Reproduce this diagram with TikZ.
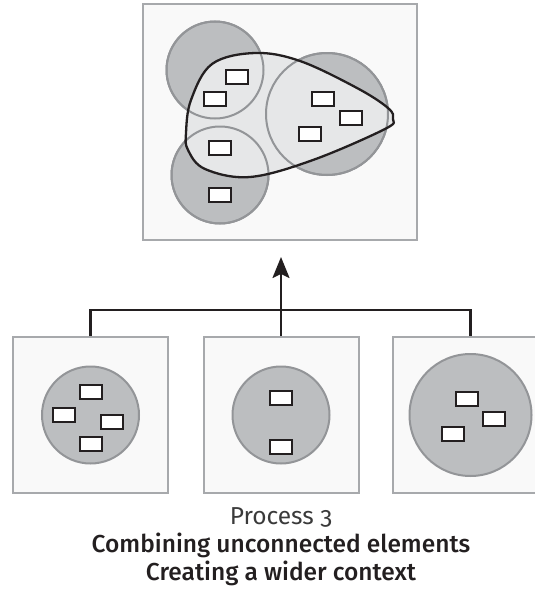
\documentclass[tikz,border=0pt]{standalone}
\usepackage{fontspec}
\setmainfont{Fira Sans}[Numbers=OldStyle, BoldFont={Fira Sans Medium}]
\usetikzlibrary{arrows.meta, positioning}
\definecolor{boxfill}{HTML}{F9F9F9}
\definecolor{boxline}{HTML}{A7A9AC}
\definecolor{circfill}{HTML}{BCBEC0}
\definecolor{circline}{HTML}{939598}
\definecolor{blobfill}{HTML}{E6E7E8}
\definecolor{ink}{HTML}{231F20}
\definecolor{proctext}{HTML}{3A3A3A}

\begin{document}
\begin{tikzpicture}[x=1pt, y=-1pt,
		% cadres, groupes et elements
		panel/.style={draw=boxline, fill=boxfill, line width=2pt, inner sep=0pt},
		cluster/.style={circle, draw=circline, fill=circfill, line width=2pt, minimum size=97pt, inner sep=0pt},
		bigcluster/.style={cluster, minimum size=122pt},
		ring/.style={draw=circline, line width=2pt},
		elem/.style={draw=ink, fill=white, line width=2pt, minimum width=22pt, minimum height=14pt, inner sep=0pt},
		link/.style={draw=ink, line width=2.2pt},
		caption/.style={anchor=base, text=ink, font=\fontsize{24.5}{29}\selectfont\bfseries},
		]
		
		\useasboundingbox (0,0) rectangle (535,589);
		
		% partie du haut
		\node[panel, minimum width=274pt, minimum height=236pt] (merged) at (280,122) {};
		
		\node[cluster] (topleft) at (215,70) {};
		\node[cluster] (botleft) at (220,175) {};
		\node[bigcluster] (right) at (327,114) {};
		
		\path[save path=\blobpath] plot[smooth cycle, tension=0.6] coordinates {(186,133) (191,100) (212,64) (255,53) (300,61) (357,88) (388,108) (393,119) (385,129) (313,160) (250,177) (205,169) (188,150)};
		\fill[blobfill, use path=\blobpath];
		\draw[ring] (topleft.center) circle[radius=48.5];
		\draw[ring] (botleft.center) circle[radius=48.5];
		\draw[ring] (right.center) circle[radius=61];
		\draw[ink, line width=2.3pt, use path=\blobpath];
		
		\node[elem] (t1) at (236.5,77) {};
		\node[elem] (t2) at (215,99) {};
		\node[elem] (t3) at (323,99) {};
		\node[elem] (t4) at (351,118) {};
		\node[elem] (t5) at (310,134) {};
		\node[elem] (t6) at (220,148) {};
		\node[elem] (t7) at (220,195) {};
		
		% partie du bas
		\node[panel, minimum width=155pt, minimum height=156pt] (boxA) at (90.5,415) {};
		\node[panel, minimum width=155pt, minimum height=156pt] (boxB) at (281,415) {};
		\node[panel, minimum width=155pt, minimum height=156pt] (boxC) at (470.5,415) {};
		
		\node[cluster] (circA) at (boxA) {};
		\node[cluster] (circB) at (boxB) {};
		\node[bigcluster] (circC) at (boxC) {};
		
		\node[elem] (a1) at (90.5,391.5) {};
		\node[elem] (a2) at (63.5,414.5) {};
		\node[elem] (a3) at (111.5,421.5) {};
		\node[elem] (a4) at (90.5,443.5) {};
		
		\node[elem] (b1) at (280.5,397.5) {};
		\node[elem] (b2) at (280.5,446.5) {};
		
		\node[elem] (c1) at (467,399) {};
		\node[elem] (c2) at (494,418.5) {};
		\node[elem] (c3) at (453,434) {};
		
		% liaisons
		\coordinate (joint) at (281,310);
		\coordinate (tip) at (281,257);
		\draw[link] (boxA.north) |- (joint) -| (boxC.north);
		\draw[link, -{Stealth[length=21pt, width=17pt, inset=4pt]}] (boxB.north) -- (tip);
		
		% legende
		\node[anchor=base, text=proctext, font=\fontsize{24.5}{29}\selectfont] (proc) at (281,524) {Process 3};
		\node[caption] (title) at (281,552) {Combining unconnected elements};
		\node[caption] (subtitle) at (281,580) {Creating a wider context};
		
\end{tikzpicture}
\end{document}
